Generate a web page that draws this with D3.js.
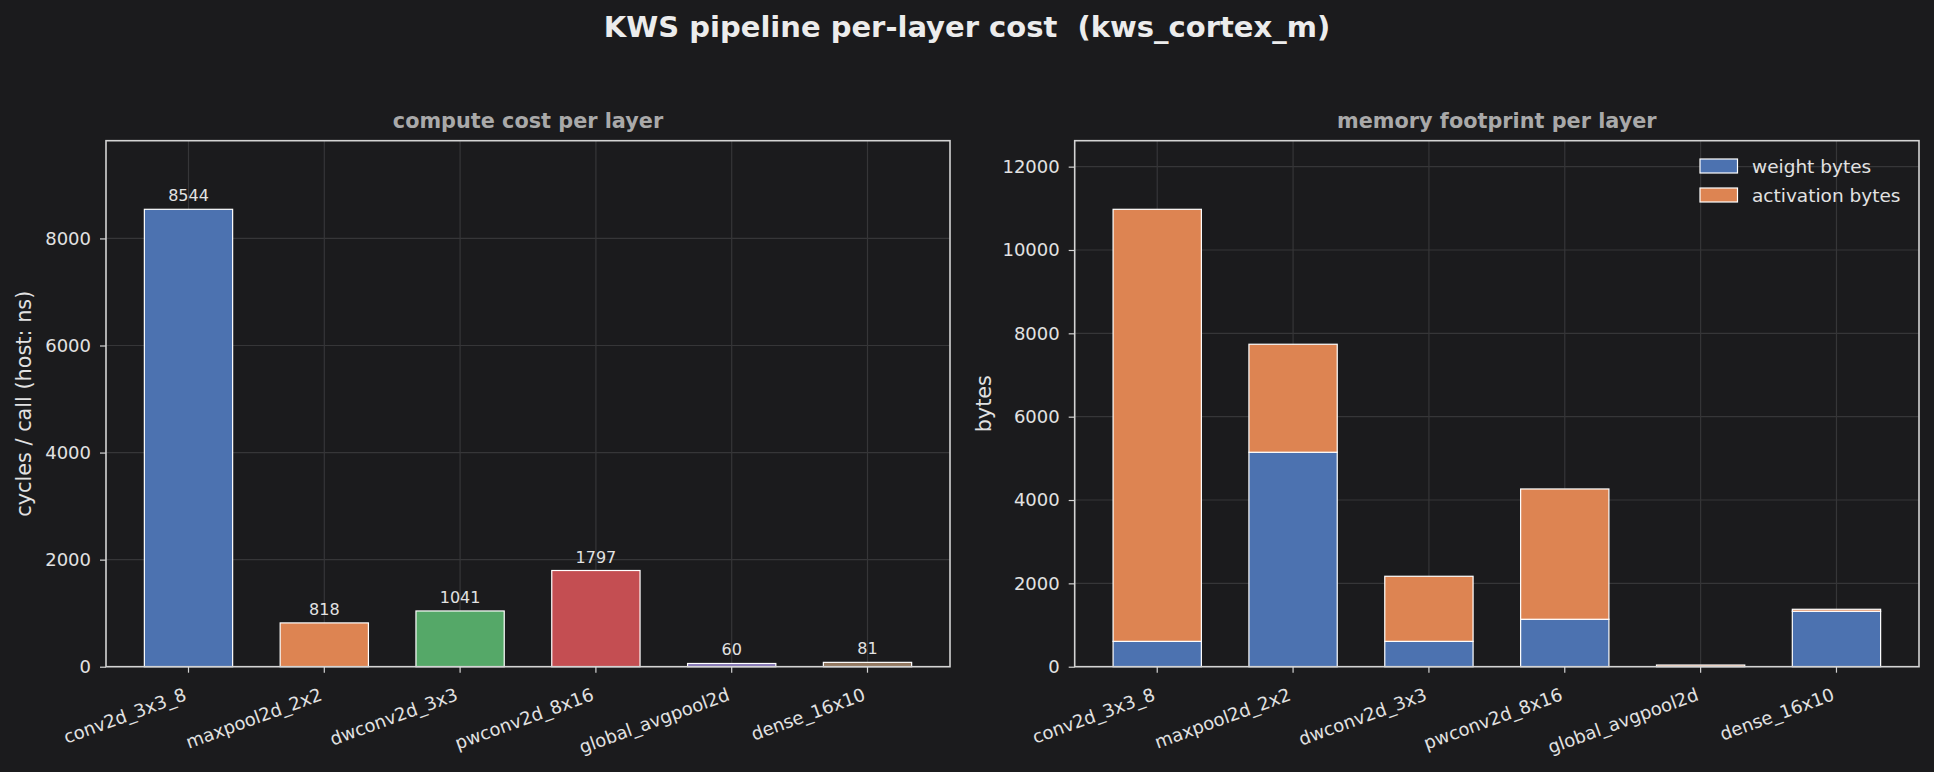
<!DOCTYPE html>
<html>
<head>
<meta charset="utf-8">
<script src="https://cdn.jsdelivr.net/npm/d3@7"></script>
<style>
  html, body { margin: 0; padding: 0; background: #1b1b1d; }
  svg { display: block; font-family: "DejaVu Sans", sans-serif; }
</style>
</head>
<body>
<script>
const width = 1934, height = 772;

// layers (shared by both panels)
const layers = ["conv2d_3x3_8", "maxpool2d_2x2", "dwconv2d_3x3", "pwconv2d_8x16", "global_avgpool2d", "dense_16x10"];

// compute cost per layer (cycles / call)
const cycles = [8544, 818, 1041, 1797, 60, 81];
const computeTicks = [0, 2000, 4000, 6000, 8000];

// memory footprint per layer
const weightBytes = [608, 5146, 608, 1138, 0, 1330];
const activationBytes = [10368, 2592, 1562, 3127, 40, 48];
const memoryTicks = [0, 2000, 4000, 6000, 8000, 10000, 12000];
const seriesNames = ["weight bytes", "activation bytes"];

const palette = ["#4C72B0", "#DD8452", "#55A868", "#C44E52", "#8172B3", "#937860"];

const bg = "#1b1b1d", gridCol = "#363638", spineCol = "#d4d4d4", textCol = "#e2e2e2";

const svg = d3.select("body").append("svg")
  .attr("width", width)
  .attr("height", height);

svg.append("rect").attr("width", width).attr("height", height).attr("fill", bg);

// suptitle (keep the double space)
svg.append("text")
  .attr("x", 967).attr("y", 37)
  .attr("text-anchor", "middle")
  .attr("font-size", 29).attr("font-weight", "bold")
  .attr("fill", "#ececec")
  .style("white-space", "pre")
  .text("KWS pipeline per-layer cost  (kws_cortex_m)");

const plotTop = 140.7, plotBottom = 666.7;

function panel(x0, x1, ymax, ticks, title, ylabel, ylabelX) {
  const x = d3.scaleBand()
    .domain(layers)
    .range([x0, x1])
    .paddingInner(0.35)
    .paddingOuter(0.2825);
  const y = d3.scaleLinear().domain([0, ymax]).range([plotBottom, plotTop]);

  const g = svg.append("g");

  // grid
  g.append("g").selectAll("line")
    .data(ticks).enter().append("line")
    .attr("x1", x0).attr("x2", x1)
    .attr("y1", d => y(d)).attr("y2", d => y(d))
    .attr("stroke", gridCol).attr("stroke-width", 1.2);
  g.append("g").selectAll("line")
    .data(layers).enter().append("line")
    .attr("x1", d => x(d) + x.bandwidth() / 2).attr("x2", d => x(d) + x.bandwidth() / 2)
    .attr("y1", plotTop).attr("y2", plotBottom)
    .attr("stroke", gridCol).attr("stroke-width", 1.2);

  // y axis
  const yAxis = g.append("g")
    .attr("transform", `translate(${x0},0)`)
    .call(d3.axisLeft(y).tickValues(ticks).tickFormat(d3.format("d")).tickSize(6).tickPadding(9));
  yAxis.select(".domain").remove();
  yAxis.selectAll("line").attr("stroke", spineCol).attr("stroke-width", 1.2);
  yAxis.selectAll("text").attr("fill", textCol).attr("font-size", 18)
    .attr("font-family", "DejaVu Sans");

  // x axis
  const xAxis = g.append("g")
    .attr("transform", `translate(0,${plotBottom})`)
    .call(d3.axisBottom(x).tickSize(6).tickSizeOuter(0));
  xAxis.select(".domain").remove();
  xAxis.selectAll("line").attr("stroke", spineCol).attr("stroke-width", 1.2);
  xAxis.selectAll("text")
    .attr("fill", textCol).attr("font-size", 18)
    .attr("font-family", "DejaVu Sans")
    .attr("text-anchor", "end")
    .attr("dy", null)
    .attr("y", 0)
    .attr("transform", "translate(-1,33) rotate(-20)");

  // title
  svg.append("text")
    .attr("x", (x0 + x1) / 2).attr("y", 128)
    .attr("text-anchor", "middle")
    .attr("font-size", 20.8).attr("font-weight", "bold")
    .attr("fill", "#a9a9a9")
    .text(title);

  // y label
  svg.append("text")
    .attr("transform", `translate(${ylabelX},${(plotTop + plotBottom) / 2}) rotate(-90)`)
    .attr("text-anchor", "middle")
    .attr("font-size", 20.8)
    .attr("fill", textCol)
    .text(ylabel);

  return { x, y, g };
}

// ---- left: compute cost
const cp = panel(106, 950, d3.max(cycles) * 1.15, computeTicks,
  "compute cost per layer", "cycles / call (host: ns)", 31);

cp.g.append("g").selectAll("rect")
  .data(cycles).enter().append("rect")
  .attr("x", (d, i) => cp.x(layers[i]))
  .attr("width", cp.x.bandwidth())
  .attr("y", d => cp.y(d))
  .attr("height", d => plotBottom - cp.y(d))
  .attr("fill", (d, i) => palette[i])
  .attr("stroke", "#ffffff").attr("stroke-width", 1.2);

cp.g.append("g").selectAll("text")
  .data(cycles).enter().append("text")
  .attr("x", (d, i) => cp.x(layers[i]) + cp.x.bandwidth() / 2)
  .attr("y", d => cp.y(d) - 8)
  .attr("text-anchor", "middle")
  .attr("font-size", 16)
  .attr("fill", textCol)
  .text(d => d);

// ---- right: memory footprint
const totals = weightBytes.map((w, i) => w + activationBytes[i]);
const mp = panel(1074.7, 1919, d3.max(totals) * 1.15, memoryTicks,
  "memory footprint per layer", "bytes", 991);

mp.g.append("g").selectAll("rect")
  .data(weightBytes).enter().append("rect")
  .attr("x", (d, i) => mp.x(layers[i]))
  .attr("width", mp.x.bandwidth())
  .attr("y", d => mp.y(d))
  .attr("height", d => plotBottom - mp.y(d))
  .attr("fill", palette[0])
  .attr("stroke", "#ffffff").attr("stroke-width", 1.2);

mp.g.append("g").selectAll("rect.act")
  .data(activationBytes).enter().append("rect")
  .attr("class", "act")
  .attr("x", (d, i) => mp.x(layers[i]))
  .attr("width", mp.x.bandwidth())
  .attr("y", (d, i) => mp.y(d + weightBytes[i]))
  .attr("height", (d, i) => mp.y(weightBytes[i]) - mp.y(d + weightBytes[i]))
  .attr("fill", palette[1])
  .attr("stroke", "#ffffff").attr("stroke-width", 1.2);

// legend
const legend = svg.append("g").attr("transform", "translate(1700,159)");
seriesNames.forEach((name, i) => {
  legend.append("rect")
    .attr("x", 0).attr("y", i * 29)
    .attr("width", 37.5).attr("height", 14)
    .attr("fill", palette[i])
    .attr("stroke", "#ffffff").attr("stroke-width", 1.2);
  legend.append("text")
    .attr("x", 52).attr("y", i * 29 + 13.5)
    .attr("font-size", 18.5)
    .attr("fill", textCol)
    .text(name);
});

// spines on top
[[106, 950], [1074.7, 1919]].forEach(([l, r]) => {
  svg.append("rect")
    .attr("x", l).attr("y", plotTop)
    .attr("width", r - l).attr("height", plotBottom - plotTop)
    .attr("fill", "none")
    .attr("stroke", spineCol).attr("stroke-width", 1.6);
});
</script>
</body>
</html>
